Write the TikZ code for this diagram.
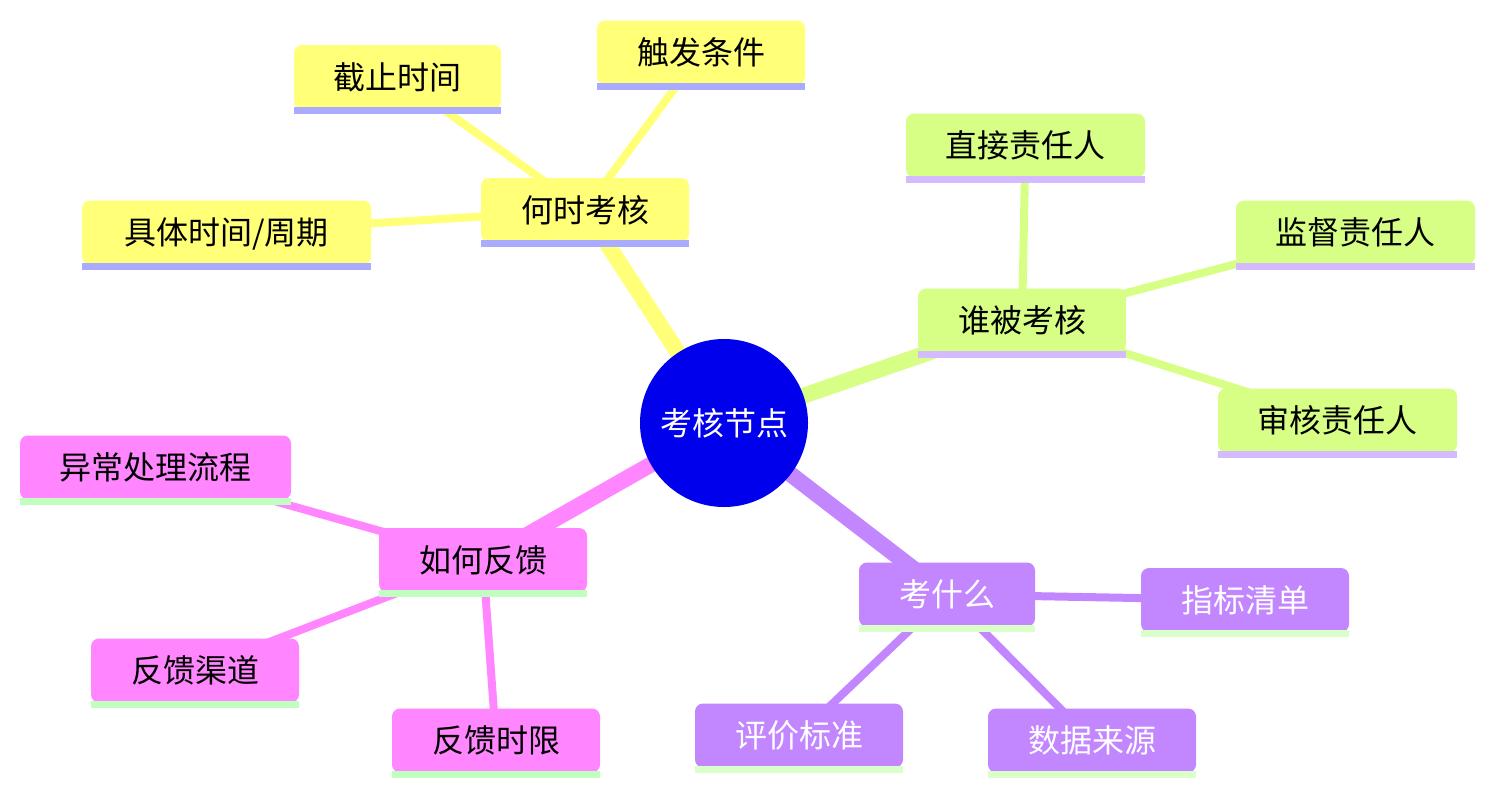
\documentclass[tikz,border=0pt]{standalone}
\usepackage{fontspec}
\setmainfont{Noto Sans CJK SC}
\definecolor{cY}{HTML}{FFFF78}
\definecolor{cG}{HTML}{D7FF86}
\definecolor{cP}{HTML}{C286FF}
\definecolor{cK}{HTML}{FF86FF}
\definecolor{bY}{HTML}{AAAAFF}
\definecolor{bG}{HTML}{D4BBFF}
\definecolor{bP}{HTML}{DAFFC8}
\definecolor{bK}{HTML}{C0FFC0}
\definecolor{cRoot}{HTML}{0000EC}
\begin{document}
\begin{tikzpicture}[x=1pt,y=-1pt,
  every node/.style={font=\fontsize{32}{38}\selectfont, inner sep=0pt},
  box/.style={rectangle, rounded corners=8pt, minimum height=64pt, text height=27pt, text depth=3pt},
  e1/.style={line width=16pt},
  e2/.style={line width=8pt}]
\useasboundingbox (0,0) rectangle (1495,795);
\path
  (724,423) coordinate (pr)
  (585,210) coordinate (p1)
  (397.5,77) coordinate (p11)
  (701,52.5) coordinate (p12)
  (226.5,232.5) coordinate (p13)
  (1022,320.5) coordinate (p2)
  (1025.5,145.5) coordinate (p21)
  (1355.5,232.5) coordinate (p22)
  (1337.5,420.5) coordinate (p23)
  (947,594.5) coordinate (p3)
  (1245,600) coordinate (p31)
  (799,735.5) coordinate (p32)
  (1092,740.5) coordinate (p33)
  (483,560) coordinate (p4)
  (155.5,467.5) coordinate (p41)
  (195,670.5) coordinate (p42)
  (496,740.5) coordinate (p43);
% edges
\draw[cY,e1] (pr) -- (p1);
\draw[cY,e2] (p1) -- (p11);
\draw[cY,e2] (p1) -- (p12);
\draw[cY,e2] (p1) -- (p13);
\draw[cG,e1] (pr) -- (p2);
\draw[cG,e2] (p2) -- (p21);
\draw[cG,e2] (p2) -- (p22);
\draw[cG,e2] (p2) -- (p23);
\draw[cP,e1] (pr) -- (p3);
\draw[cP,e2] (p3) -- (p31);
\draw[cP,e2] (p3) -- (p32);
\draw[cP,e2] (p3) -- (p33);
\draw[cK,e1] (pr) -- (p4);
\draw[cK,e2] (p4) -- (p41);
\draw[cK,e2] (p4) -- (p42);
\draw[cK,e2] (p4) -- (p43);
% root
\node[circle, fill=cRoot, minimum size=168pt, text=white] (root) at (pr) {考核节点};
% yellow
\node[box, fill=cY, minimum width=208pt] (n1) at (p1) {何时考核};
\node[box, fill=cY, minimum width=207pt] (n11) at (p11) {截止时间};
\node[box, fill=cY, minimum width=208pt] (n12) at (p12) {触发条件};
\node[box, fill=cY, minimum width=289pt] (n13) at (p13) {具体时间/周期};
\foreach \n in {n1,n11,n12,n13} \fill[bY] ([yshift=2pt]\n.south west) rectangle ([yshift=-5pt]\n.south east);
% green
\node[box, fill=cG, minimum width=208pt] (n2) at (p2) {谁被考核};
\node[box, fill=cG, minimum width=239pt] (n21) at (p21) {直接责任人};
\node[box, fill=cG, minimum width=239pt] (n22) at (p22) {监督责任人};
\node[box, fill=cG, minimum width=239pt] (n23) at (p23) {审核责任人};
\foreach \n in {n2,n21,n22,n23} \fill[bG] ([yshift=2pt]\n.south west) rectangle ([yshift=-5pt]\n.south east);
% purple
\node[box, fill=cP, minimum width=176pt, text=white] (n3) at (p3) {考什么};
\node[box, fill=cP, minimum width=208pt, text=white] (n31) at (p31) {指标清单};
\node[box, fill=cP, minimum width=208pt, text=white] (n32) at (p32) {评价标准};
\node[box, fill=cP, minimum width=208pt, text=white] (n33) at (p33) {数据来源};
\foreach \n in {n3,n31,n32,n33} \fill[bP] ([yshift=2pt]\n.south west) rectangle ([yshift=-5pt]\n.south east);
% pink
\node[box, fill=cK, minimum width=208pt] (n4) at (p4) {如何反馈};
\node[box, fill=cK, minimum width=271pt] (n41) at (p41) {异常处理流程};
\node[box, fill=cK, minimum width=208pt] (n42) at (p42) {反馈渠道};
\node[box, fill=cK, minimum width=208pt] (n43) at (p43) {反馈时限};
\foreach \n in {n4,n41,n42,n43} \fill[bK] ([yshift=2pt]\n.south west) rectangle ([yshift=-5pt]\n.south east);
\end{tikzpicture}
\end{document}
